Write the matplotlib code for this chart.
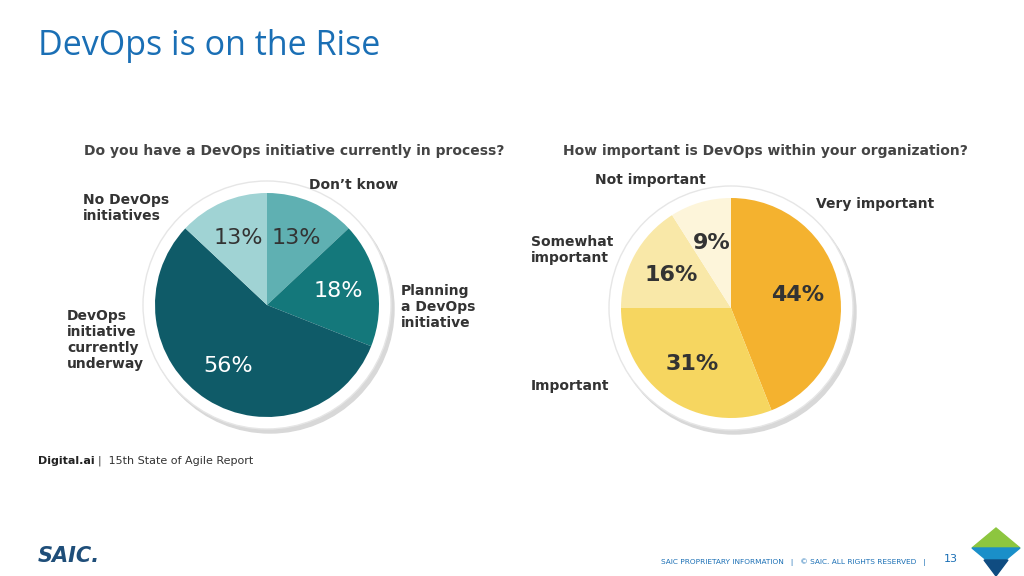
import matplotlib
matplotlib.use("Agg")
import matplotlib.pyplot as plt
from matplotlib.patches import Circle, Polygon

left_labels = ["Don’t know", "Planning\na DevOps\ninitiative", "DevOps\ninitiative\ncurrently\nunderway", "No DevOps\ninitiatives"]
left_values = [13, 18, 56, 13]
left_colors = ["#5fb0b2", "#14787b", "#0f5b68", "#a0d3d4"]
left_pct_colors = ["#333333", "white", "white", "#333333"]

right_labels = ["Very important", "Important", "Somewhat\nimportant", "Not important"]
right_values = [44, 31, 16, 9]
right_colors = ["#f4b22f", "#f6d660", "#f9e8a8", "#fdf5da"]

fig = plt.figure(figsize=(10.24, 5.76), dpi=100)
ax = fig.add_axes([0, 0, 1, 1])

def setup():
    ax.set_xlim(0, 1024); ax.set_ylim(576, 0); ax.set_aspect("equal"); ax.axis("off")
setup()

ax.text(38, 46, "DevOps is on the Rise", fontsize=24.5, color="#1a6fb5", va="center", family="Open Sans")

def ring(cx, cy, r):
    ax.add_patch(Circle((cx+3, cy+4), r+12, color="#d8d8d8", zorder=1))
    ax.add_patch(Circle((cx, cy), r+12, facecolor="white", edgecolor="#e6e6e6", lw=1, zorder=2))

cxL, cyL, rL = 267, 305, 112
ring(cxL, cyL, rL)
w, t, at = ax.pie(left_values, colors=left_colors, startangle=-90, counterclock=True,
                  center=(cxL, cyL), radius=rL, autopct="%d%%", pctdistance=0.65,
                  wedgeprops=dict(linewidth=0), frame=True)
for a, c in zip(at, left_pct_colors):
    a.set_color(c); a.set_fontsize(16); a.set_zorder(5)
for wd in w: wd.set_zorder(3)
setup()

ax.text(84, 151, "Do you have a DevOps initiative currently in process?", fontsize=10, fontweight="bold", color="#444444", va="center")
lpos = [(309, 185), (401, 307), (67, 340), (83, 208)]
for (x, y), lab in zip(lpos, left_labels):
    ax.text(x, y, lab, fontsize=10, fontweight="bold", color="#333333", ha="left", va="center", linespacing=1.2)

cxR, cyR, rR = 731, 308, 110
ring(cxR, cyR, rR)
w2, t2, at2 = ax.pie(right_values, colors=right_colors, startangle=-90, counterclock=True,
                     center=(cxR, cyR), radius=rR, autopct="%d%%", pctdistance=0.62,
                     wedgeprops=dict(linewidth=0), frame=True)
for a in at2:
    a.set_color("#333333"); a.set_fontsize(16); a.set_fontweight("bold"); a.set_zorder(5)
for wd in w2: wd.set_zorder(3)
setup()

ax.text(563, 151, "How important is DevOps within your organization?", fontsize=10, fontweight="bold", color="#444444", va="center")
rpos = [(816, 204), (531, 386), (531, 250), (595, 180)]
for (x, y), lab in zip(rpos, right_labels):
    ax.text(x, y, lab, fontsize=10, fontweight="bold", color="#333333", ha="left", va="center", linespacing=1.2)

ax.text(38, 461, "Digital.ai", fontsize=8, fontweight="bold", color="#222222", va="center")
ax.text(98, 461, "|  15th State of Agile Report", fontsize=8, color="#333333", va="center")

ax.text(38, 556, "SAIC.", fontsize=15, fontweight="bold", fontstyle="italic", color="#1f4e79", va="center")
ax.text(926, 562, "SAIC PROPRIETARY INFORMATION   |   © SAIC. ALL RIGHTS RESERVED   |", fontsize=5.3, color="#1a6fb5", va="center", ha="right")
ax.text(944, 559, "13", fontsize=8, color="#1a6fb5", va="center")
ax.add_patch(Polygon([[972, 548], [996, 528], [1020, 548]], color="#8dc63f"))
ax.add_patch(Polygon([[972, 548], [996, 568], [1020, 548]], color="#1a8fc9"))
ax.add_patch(Polygon([[984, 560], [996, 576], [1008, 560]], color="#0f4c81"))

fig.savefig("out.png", dpi=100)
